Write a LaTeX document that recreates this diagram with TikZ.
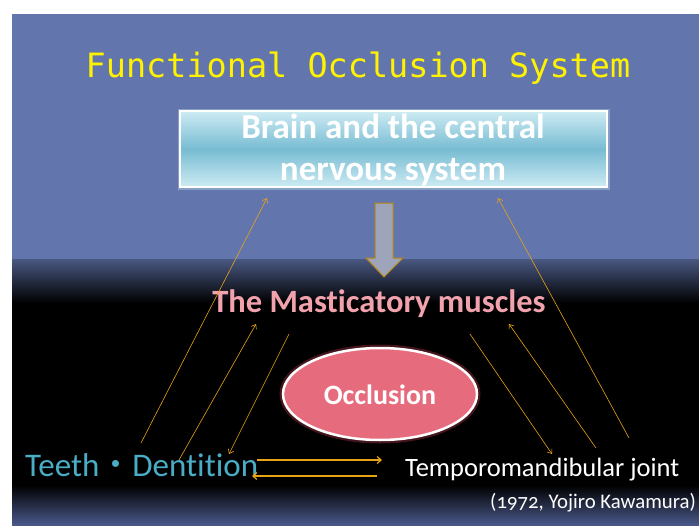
\documentclass[tikz,border=0pt]{standalone}
\usepackage{fontspec}
\setmainfont{Carlito}[Numbers=OldStyle, Ligatures=NoCommon]
\newfontfamily\titlefont{DejaVu Sans Mono}
\newfontfamily\cjk{Noto Sans CJK JP}
\usepackage{tikz}
\usetikzlibrary{arrows.meta}

\definecolor{slideblue}{RGB}{98,118,173}
\definecolor{slidebottom}{RGB}{74,88,138}
\definecolor{boxmid}{RGB}{120,188,210}
\definecolor{boxlight}{RGB}{205,235,243}
\definecolor{muscpink}{RGB}{242,162,172}
\definecolor{occlred}{RGB}{230,108,125}
\definecolor{glowred}{RGB}{125,40,52}
\definecolor{teethcyan}{RGB}{75,172,198}
\definecolor{linkorange}{RGB}{232,162,22}
\definecolor{arrowgrey}{RGB}{158,164,186}
\definecolor{arrowrim}{RGB}{184,134,11}

\tikzset{
  link/.style={linkorange, line width=0.6pt, -{Straight Barb[length=4pt,width=6pt]}},
  hlink/.style={linkorange, line width=1.2pt, -{Straight Barb[length=4pt,width=7pt]}}
}

\begin{document}
\begin{tikzpicture}[x=1pt,y=-1pt]
    \useasboundingbox (0,0) rectangle (699,525);

    % sfondo
    \fill[white] (0,0) rectangle (699,525);
    \fill[slideblue] (12,14) rectangle (699,259);
    \shade[top color=slideblue!75!black, bottom color=black] (12,259) rectangle (699,303);
    \fill[black] (12,303) rectangle (699,485);
    \shade[top color=black, bottom color=slidebottom] (12,485) rectangle (699,525);

    % titolo
    \node[yellow, font=\titlefont\fontsize{33.5}{36}\selectfont] (title) at (358,68) {Functional Occlusion System};

    % cervello
    \draw[boxlight, line width=5pt, opacity=0.35] (180,111) rectangle (607,187);
    \shade[top color=boxlight, bottom color=boxlight, middle color=boxmid] (180,111) rectangle (607,187);
    \draw[white, line width=1.5pt] (180,111) rectangle (607,187);
    \node[white, align=center, font=\bfseries\fontsize{35}{42}\selectfont] (brain) at (393,150) {Brain and the central\\nervous system};

    % freccia grossa
    \draw[arrowrim, fill=arrowgrey, line width=1pt] (375,203) -- (393,203) -- (393,258) -- (403,258)
        -- (384,277) -- (366,258) -- (375,258) -- cycle;

    % muscoli
    \node[muscpink, font=\bfseries\fontsize{32.5}{34}\selectfont] (muscles) at (379,304) {The Masticatory muscles};

    % occlusione
    \draw[glowred, line width=7pt, opacity=0.55] (380,394) ellipse (97 and 46);
    \fill[occlred] (380,394) ellipse (97 and 46);
    \draw[white, line width=2.5pt] (380,394) ellipse (97 and 46);
    \node[white, font=\bfseries\fontsize{28}{30}\selectfont] (occl) at (380,395) {Occlusion};

    % etichette in basso
    \node[teethcyan, anchor=base west, inner sep=0pt, font=\fontsize{33}{35}\selectfont] (teeth) at (25,476) {Teeth{\cjk ・}Dentition};
    \node[white, anchor=base west, inner sep=0pt, font=\fontsize{26.5}{28}\selectfont] (tmj) at (405,476) {Temporomandibular joint};
    \node[white, anchor=base west, inner sep=0pt, font=\fontsize{20.8}{23}\selectfont] (cite) at (490,508) {(1972, Yojiro Kawamura)};

    % estremi delle frecce
    \coordinate (t1) at (141,443);
    \coordinate (b1) at (267,198);
    \coordinate (t2) at (179,460);
    \coordinate (m2) at (256,324);
    \coordinate (m3) at (289,334);
    \coordinate (t3) at (229,454);
    \coordinate (m4) at (470,334);
    \coordinate (j4) at (552,454);
    \coordinate (j5) at (596,448);
    \coordinate (m5) at (509,324);
    \coordinate (j6) at (629,438);
    \coordinate (b6) at (498,198);
    \coordinate (th) at (257,460);
    \coordinate (jh) at (382,460);
    \coordinate (jl) at (377,476);
    \coordinate (tl) at (252,476);

    % frecce
    \draw[link] (t1) -- (b1);
    \draw[link] (t2) -- (m2);
    \draw[link] (m3) -- (t3);
    \draw[link] (m4) -- (j4);
    \draw[link] (j5) -- (m5);
    \draw[link] (j6) -- (b6);
    \draw[hlink] (th) -- (jh);
    \draw[hlink] (jl) -- (tl);
\end{tikzpicture}
\end{document}
